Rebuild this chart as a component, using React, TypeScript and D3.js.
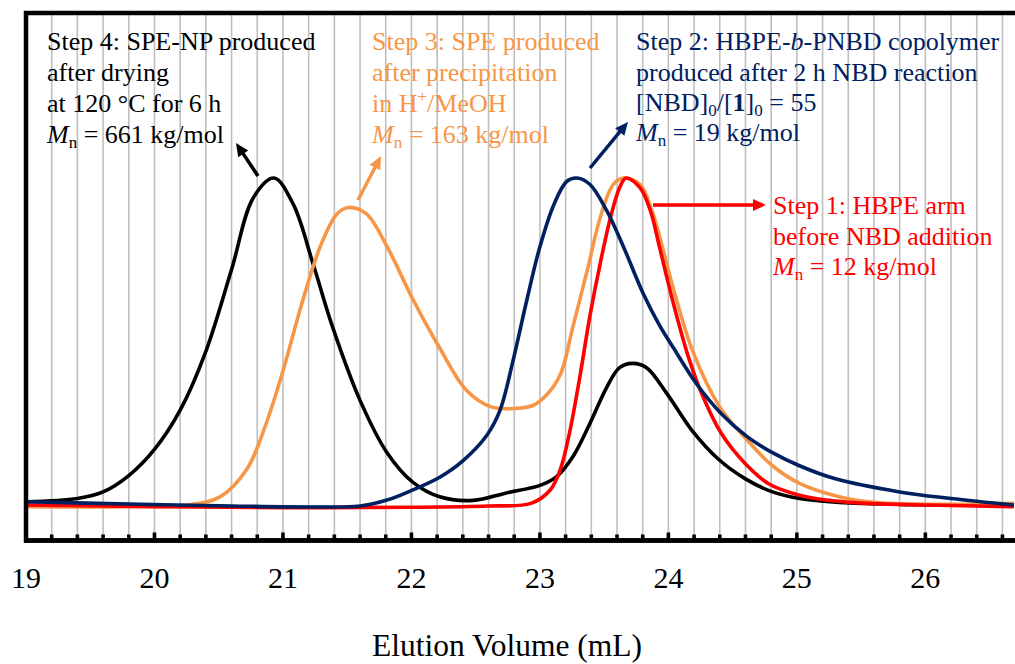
import React from "react";
import * as d3 from "d3";

// ---- Data ----
const step4Vol = [19.0, 19.4, 19.6, 19.8, 20.0, 20.2, 20.4, 20.6, 20.77, 20.93, 21.08, 21.24, 21.39, 21.6, 21.81, 22.01, 22.22, 22.48, 22.74, 23.0, 23.13, 23.26, 23.39, 23.52, 23.62, 23.72, 23.83, 23.99, 24.18, 24.39, 24.6, 24.81, 25.02, 25.33, 25.8, 26.69];
const step4Int = [1, 2, 4, 9, 17, 29, 47, 72, 94, 100, 92, 73, 54, 32, 16, 7, 2.5, 1.4, 3.7, 6, 8.7, 15, 25, 36, 42, 43.3, 42, 34, 23, 14, 8, 4, 2, 0.8, 0.2, 0];

const step3Vol = [19.0, 19.8, 20.25, 20.51, 20.72, 20.87, 21.0, 21.15, 21.29, 21.42, 21.51, 21.65, 21.81, 22.01, 22.22, 22.43, 22.62, 22.8, 22.95, 23.06, 23.16, 23.26, 23.37, 23.47, 23.57, 23.65, 23.78, 23.88, 24.04, 24.19, 24.4, 24.61, 24.81, 25.02, 25.33, 25.6, 26.0, 26.69];
const step3Int = [-0.5, -0.5, 0, 2.5, 11, 25, 41, 62, 79, 89, 91, 89, 79, 63, 48, 35, 30, 29.5, 30.5, 34, 40, 55, 72, 88, 98, 100, 98, 89, 66, 47, 30, 20, 12, 6.6, 2.5, 0.8, 0.2, 0.5];

const step1Vol = [19.0, 20.0, 21.0, 22.0, 22.6, 22.93, 23.08, 23.16, 23.23, 23.31, 23.39, 23.47, 23.55, 23.62, 23.67, 23.78, 23.86, 23.93, 24.03, 24.15, 24.26, 24.41, 24.59, 24.78, 25.02, 25.3, 25.55, 26.0, 26.69];
const step1Int = [0, -0.5, -0.8, -0.7, -0.3, 0.5, 4.6, 11, 22, 39, 58, 74, 88, 97, 100, 97, 90, 79, 63, 46, 34, 22, 13, 6.5, 3, 1.2, 0.5, 0, -0.5];

const step2Vol = [19.0, 19.8, 20.6, 21.2, 21.6, 21.81, 22.01, 22.22, 22.4, 22.59, 22.69, 22.79, 22.9, 23.0, 23.11, 23.21, 23.29, 23.39, 23.52, 23.65, 23.8, 23.93, 24.04, 24.22, 24.41, 24.61, 24.81, 25.02, 25.3, 25.8, 26.2, 26.69];
const step2Int = [1, 0.3, -0.3, -0.6, -0.3, 1.5, 4.6, 8.5, 13.5, 21.5, 29, 44, 63, 79, 92, 99, 100, 98, 90, 79, 65, 55, 48, 37, 28, 21, 16, 12, 8, 4, 2, 0];

const xTickLabels = [19, 20, 21, 22, 23, 24, 25, 26];
const xMin = 19;
const xMax = 26.69;
const gridStep = 0.2;
const xAxisTitle = "Elution Volume (mL)";

const W = 1015;
const H = 664;
const FONT = "'Liberation Serif', 'Times New Roman', serif";

const C_BLACK = "#000000";
const C_ORANGE = "#F79646";
const C_RED = "#FF0000";
const C_BLUE = "#002060";

function zip(xs: number[], ys: number[]) {
  return xs.map((x, i) => ({ x, y: ys[i] }));
}

function Arrow({ x1, y1, x2, y2, color }: { x1: number; y1: number; x2: number; y2: number; color: string }) {
  const ang = Math.atan2(y2 - y1, x2 - x1);
  const L = 13;
  const Wd = 6;
  const bx = x2 - L * Math.cos(ang);
  const by = y2 - L * Math.sin(ang);
  const px = -Math.sin(ang) * Wd;
  const py = Math.cos(ang) * Wd;
  return (
    <g>
      <line x1={x1} y1={y1} x2={bx + Math.cos(ang) * 2} y2={by + Math.sin(ang) * 2} stroke={color} strokeWidth={3.5} />
      <path d={`M${x2},${y2} L${bx + px},${by + py} L${bx - px},${by - py} Z`} fill={color} />
    </g>
  );
}

function Mn({ value }: { value: string }) {
  return (
    <>
      <tspan fontStyle="italic">M</tspan>
      <tspan fontSize={17} dy={5}>n</tspan>
      <tspan dy={-5}>{" = " + value}</tspan>
    </>
  );
}

export default function App() {
  const left = 26;
  const right = 1014;
  const top = 13;
  const bottom = 540.5;

  const x = d3.scaleLinear().domain([xMin, xMax]).range([left, right]);
  const y = d3.scaleLinear().domain([0, 100]).range([505, 178]);

  const line = d3
    .line<{ x: number; y: number }>()
    .x((d) => x(d.x))
    .y((d) => y(d.y))
    .curve(d3.curveCatmullRom.alpha(0.5));

  const gridVals = d3.range(0, Math.round((xMax - xMin) / gridStep) + 1).map((i) => +(xMin + i * gridStep).toFixed(2));

  const series = [
    { data: zip(step4Vol, step4Int), color: C_BLACK },
    { data: zip(step3Vol, step3Int), color: C_ORANGE },
    { data: zip(step1Vol, step1Int), color: C_RED },
    { data: zip(step2Vol, step2Int), color: C_BLUE },
  ];

  const fs = 26;
  const sub = 17;

  return (
    <svg
      width={W}
      height={H}
      style={{ position: "absolute", left: 0, top: 0, background: "#fff" }}
      fontFamily={FONT}
    >
      <rect x={0} y={0} width={W} height={H} fill="#fff" />
      {gridVals
        .filter((v) => v > xMin + 0.01)
        .map((v) => (
          <line key={"g" + v} x1={x(v)} x2={x(v)} y1={top} y2={bottom} stroke="#BFBFBF" strokeWidth={1.6} />
        ))}
      {gridVals.map((v) => {
        const major = Math.abs(v - Math.round(v)) < 0.01;
        return (
          <rect
            key={"t" + v}
            x={x(v) - 1.8}
            y={bottom - (major ? 8 : 6)}
            width={3.6}
            height={major ? 8 : 6}
            fill="#000"
          />
        );
      })}
      {series.map((s, i) => (
        <path key={i} d={line(s.data) || ""} fill="none" stroke={s.color} strokeWidth={3.6} strokeLinejoin="round" />
      ))}
      <rect x={left} y={top} width={right - left + 4} height={bottom - top} fill="none" stroke="#000" strokeWidth={4.5} />
      <line x1={left - 2} x2={W} y1={bottom} y2={bottom} stroke="#000" strokeWidth={4.5} />

      {xTickLabels.map((v) => (
        <text key={"l" + v} x={x(v)} y={588} textAnchor="middle" fontSize={30} fill="#000">
          {v}
        </text>
      ))}
      <text x={507} y={656} textAnchor="middle" fontSize={31.5} fill="#000">
        {xAxisTitle}
      </text>

      {/* Step 4 */}
      <g fontSize={fs} fill={C_BLACK}>
        <text x={47} y={50}>Step 4: SPE-NP produced</text>
        <text x={47} y={81}>after drying</text>
        <text x={47} y={112}>at 120 °C for 6 h</text>
        <text x={47} y={143}>
          <Mn value="661 kg/mol" />
        </text>
      </g>
      <Arrow x1={258} y1={176} x2={236} y2={143} color={C_BLACK} />

      {/* Step 3 */}
      <g fontSize={fs} fill={C_ORANGE}>
        <text x={372} y={50}>Step 3: SPE produced</text>
        <text x={372} y={81}>after precipitation</text>
        <text x={372} y={112}>
          in H<tspan fontSize={sub} dy={-10}>+</tspan>
          <tspan dy={10}>/MeOH</tspan>
        </text>
        <text x={372} y={143}>
          <Mn value="163 kg/mol" />
        </text>
      </g>
      <Arrow x1={358} y1={200} x2={381} y2={156} color={C_ORANGE} />

      {/* Step 2 */}
      <g fontSize={fs} fill={C_BLUE}>
        <text x={636} y={50}>
          Step 2: HBPE-<tspan fontStyle="italic">b</tspan>-PNBD copolymer
        </text>
        <text x={636} y={81}>produced after 2 h NBD reaction</text>
        <text x={636} y={111}>
          [NBD]<tspan fontSize={sub} dy={5}>0</tspan>
          <tspan dy={-5}>/[</tspan>
          <tspan fontWeight="bold">1</tspan>]<tspan fontSize={sub} dy={5}>0</tspan>
          <tspan dy={-5}> = 55</tspan>
        </text>
        <text x={636} y={141}>
          <Mn value="19 kg/mol" />
        </text>
      </g>
      <Arrow x1={590} y1={168} x2={628} y2={122} color={C_BLUE} />

      {/* Step 1 */}
      <g fontSize={fs} fill={C_RED}>
        <text x={773} y={214}>Step 1: HBPE arm</text>
        <text x={773} y={245}>before NBD addition</text>
        <text x={773} y={275}>
          <Mn value="12 kg/mol" />
        </text>
      </g>
      <Arrow x1={653} y1={205} x2={766} y2={205} color={C_RED} />
    </svg>
  );
}
